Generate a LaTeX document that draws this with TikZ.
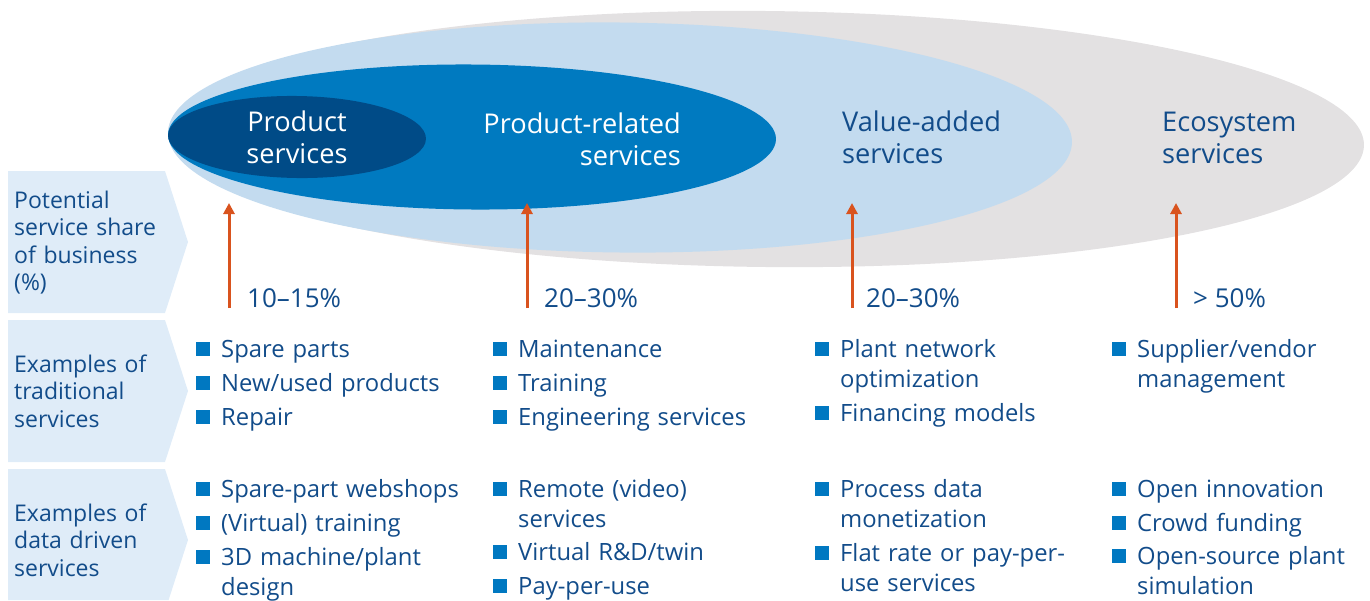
\documentclass[tikz,border=0pt]{standalone}
\usepackage{fontspec}
\setmainfont{Open Sans}
\usetikzlibrary{arrows.meta,shapes.geometric}
\definecolor{txtblue}{HTML}{124C8A}
\definecolor{darkell}{HTML}{004B87}
\definecolor{medell}{HTML}{007AC0}
\definecolor{lightell}{HTML}{C3DBEF}
\definecolor{grayell}{HTML}{E3E1E2}
\definecolor{rowbg}{HTML}{DFECF8}
\definecolor{arrowc}{HTML}{D9531E}
\definecolor{bulletc}{HTML}{0078C1}
\newcommand\bitem[3]{%
  \node[itemtext] (#1) at (#2) {#3};
  \fill[bulletc] ([xshift=-25pt,yshift=1pt]#1.base west) rectangle ++(14pt,14pt);
}
\begin{document}
\begin{tikzpicture}[x=1pt,y=-1pt,
  ell/.style={ellipse,inner sep=0pt,draw=none},
  elltext/.style={font=\fontsize{27.2}{32}\selectfont,inner sep=0pt,text width=220pt},
  rowtext/.style={font=\fontsize{23}{27.5}\selectfont,inner sep=0pt,text width=170pt,align=left,anchor=base west,text=txtblue},
  pcttext/.style={font=\fontsize{26}{30}\selectfont,inner sep=0pt,anchor=base west,text=txtblue},
  itemtext/.style={font=\fontsize{23.8}{30}\selectfont,inner sep=0pt,text width=250pt,align=left,anchor=base west,text=txtblue},
  uparrow/.style={draw=arrowc,line width=3pt,-{Triangle[width=11pt,length=11pt]}},
  rowshape/.style={fill=rowbg}]
\useasboundingbox (0,0) rectangle (1370,600);
% ellipses
\node[ell,fill=grayell,minimum width=1196pt,minimum height=256pt,rotate=-0.6] (eco) at (766,139) {};
\node[ell,fill=lightell,minimum width=904pt,minimum height=230pt,rotate=-0.6] (va) at (620,137.5) {};
\node[ell,fill=medell,minimum width=608pt,minimum height=145pt,rotate=-0.4] (pr) at (472,137) {};
\node[ell,fill=darkell,minimum width=258pt,minimum height=82pt,rotate=-0.8] (ps) at (297,137) {};
% ellipse labels
\node[elltext,align=center,anchor=base,text=white] (pslab) at (297,131) {Product\\services};
\node[elltext,align=right,anchor=base east,text=white] (prlab) at (681,133) {Product-related\\services};
\node[elltext,align=left,anchor=base west,text=txtblue] (valab) at (842,131) {Value-added\\services};
\node[elltext,align=left,anchor=base west,text=txtblue] (ecolab) at (1162,131) {Ecosystem\\services};
% row shapes
\fill[rowshape] (8,171) -- (165,171) -- (188,242) -- (165,313) -- (8,313) -- cycle;
\fill[rowshape] (8,320) -- (165,320) -- (188,391) -- (165,462) -- (8,462) -- cycle;
\fill[rowshape] (8,469) -- (165,469) -- (188,540) -- (168.6,600) -- (8,600) -- cycle;
\node[rowtext] (r1) at (14,208) {Potential\\service share\\of business\\(\%)};
\node[rowtext] (r2) at (14,372) {Examples of\\traditional\\services};
\node[rowtext] (r3) at (14,521) {Examples of\\data driven\\services};
% arrows
\coordinate (a1s) at (229,308); \coordinate (a1e) at (229,203);
\coordinate (a2s) at (527,308); \coordinate (a2e) at (527,203);
\coordinate (a3s) at (852,308); \coordinate (a3e) at (852,203);
\coordinate (a4s) at (1176,308); \coordinate (a4e) at (1176,203);
\draw[uparrow] (a1s) -- (a1e);
\draw[uparrow] (a2s) -- (a2e);
\draw[uparrow] (a3s) -- (a3e);
\draw[uparrow] (a4s) -- (a4e);
\node[pcttext] (p1) at (247,307) {10–15\%};
\node[pcttext] (p2) at (544,307) {20–30\%};
\node[pcttext] (p3) at (866,307) {20–30\%};
\node[pcttext] (p4) at (1193,307) {> 50\%};
% traditional services
\bitem{t11}{221,357}{Spare parts}
\bitem{t12}{221,391}{New/used products}
\bitem{t13}{221,425}{Repair}
\bitem{t21}{518,357}{Maintenance}
\bitem{t22}{518,391}{Training}
\bitem{t23}{518,425}{Engineering services}
\bitem{t31}{840,357}{Plant network\\optimization}
\bitem{t32}{840,421}{Financing models}
\bitem{t41}{1137,357}{Supplier/vendor\\management}
% data driven services
\bitem{d11}{221,497}{Spare-part webshops}
\bitem{d12}{221,531}{(Virtual) training}
\bitem{d13}{221,565}{3D machine/plant\\design}
\bitem{d21}{518,497}{Remote (video)\\services}
\bitem{d22}{518,560}{Virtual R\&D/twin}
\bitem{d23}{518,594}{Pay-per-use}
\bitem{d31}{840,497}{Process data\\monetization}
\bitem{d32}{840,561}{Flat rate or pay-per-\\use services}
\bitem{d41}{1137,497}{Open innovation}
\bitem{d42}{1137,531}{Crowd funding}
\bitem{d43}{1137,564}{Open-source plant\\simulation}
\end{tikzpicture}
\end{document}
